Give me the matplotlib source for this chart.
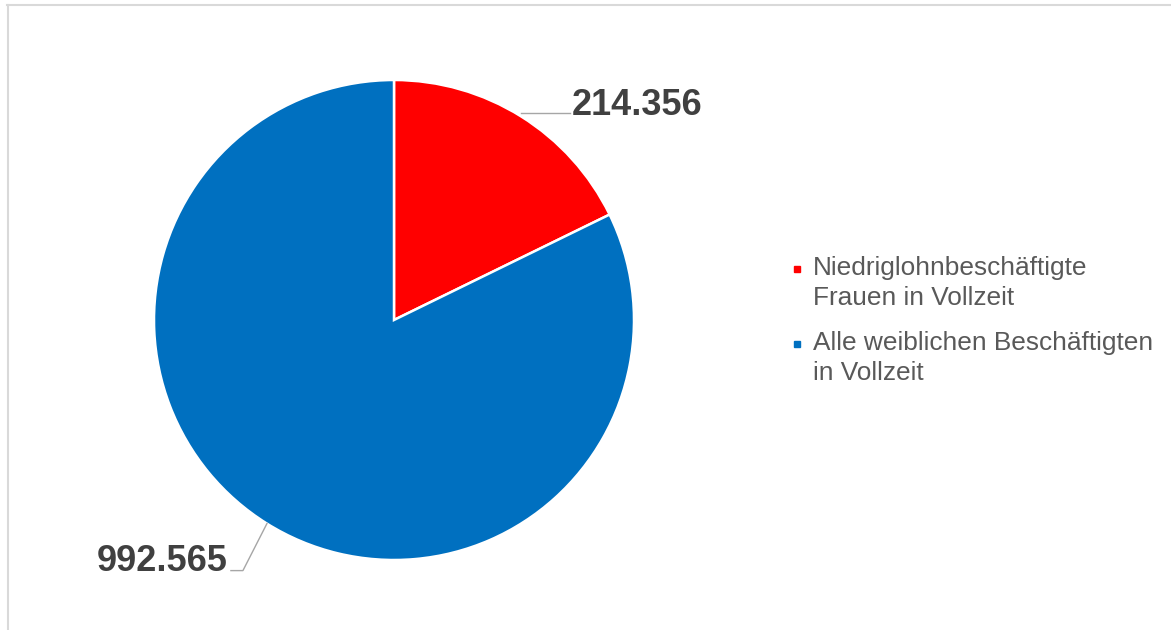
import numpy as np
import matplotlib.pyplot as plt
from matplotlib.lines import Line2D
from matplotlib.patches import Rectangle

labels = ["Niedriglohnbeschäftigte\nFrauen in Vollzeit",
          "Alle weiblichen Beschäftigten\nin Vollzeit"]
values = [214356, 992565]
value_labels = ["214.356", "992.565"]
colors = ["#FF0000", "#0070C0"]

W, H = 1171, 630
fig = plt.figure(figsize=(W / 100, H / 100), dpi=100)
plt.rcParams['font.family'] = ['Liberation Sans', 'DejaVu Sans']

# pie: center (394, 320) px, radius 240 px
cx, cy, r = 394, 320, 240
ax = fig.add_axes([(cx - r) / W, (H - cy - r) / H, 2 * r / W, 2 * r / H])
wedges, _ = ax.pie(values, colors=colors, startangle=90, counterclock=False,
                   radius=1, wedgeprops=dict(edgecolor='white', linewidth=1.8))
ax.set_xlim(-1, 1)
ax.set_ylim(-1, 1)
ax.set_aspect('equal')
ax.axis('off')

px = 1 / r  # one pixel in data units
lead_col = '#a6a6a6'
txt_col = '#404040'
for i, w in enumerate(wedges):
    mid = np.deg2rad((w.theta1 + w.theta2) / 2)
    x0, y0 = np.cos(mid), np.sin(mid)
    if x0 >= 0:
        xs = [x0, x0 + 49 * px]
        ys = [y0 + 3 * px, y0 + 3 * px]
        ax.plot(xs, ys, color=lead_col, lw=1, clip_on=False)
        ax.text(xs[-1] + 2 * px, ys[-1] - 2 * px, value_labels[i], ha='left', va='baseline',
                fontsize=26, fontweight='bold', color=txt_col, clip_on=False)
    else:
        xs = [x0, x0 - 24 * px, x0 - 36 * px]
        ys = [y0, y0 - 47 * px, y0 - 47 * px]
        ax.plot(xs, ys, color=lead_col, lw=1, clip_on=False)
        ax.text(xs[-1] - 3 * px, ys[-1], value_labels[i], ha='right', va='baseline',
                fontsize=26, fontweight='bold', color=txt_col, clip_on=False)

# legend drawn by hand so the marker sits on the first line
leg_x, leg_y0, leg_step, line_h = 813, 275, 75, 30
for i, lab in enumerate(labels):
    by = leg_y0 + i * leg_step
    for k, part in enumerate(lab.split('\n')):
        fig.text(leg_x / W, 1 - (by + k * line_h) / H, part, ha='left', va='baseline',
                 fontsize=18.9, color='#595959')
    fig.patches.append(Rectangle((794 / W, 1 - (by - 3) / H), 6 / W, 6 / H,
                                 transform=fig.transFigure, color=colors[i]))

# light frame (top and left edges visible)
fig.lines.append(Line2D([7 / W, 1], [1 - 4.5 / H, 1 - 4.5 / H], transform=fig.transFigure,
                        color='#d9d9d9', lw=1.5))
fig.lines.append(Line2D([7.5 / W, 7.5 / W], [0, 1 - 4.5 / H], transform=fig.transFigure,
                        color='#d9d9d9', lw=1.5))

fig.savefig('out.png', dpi=100)
